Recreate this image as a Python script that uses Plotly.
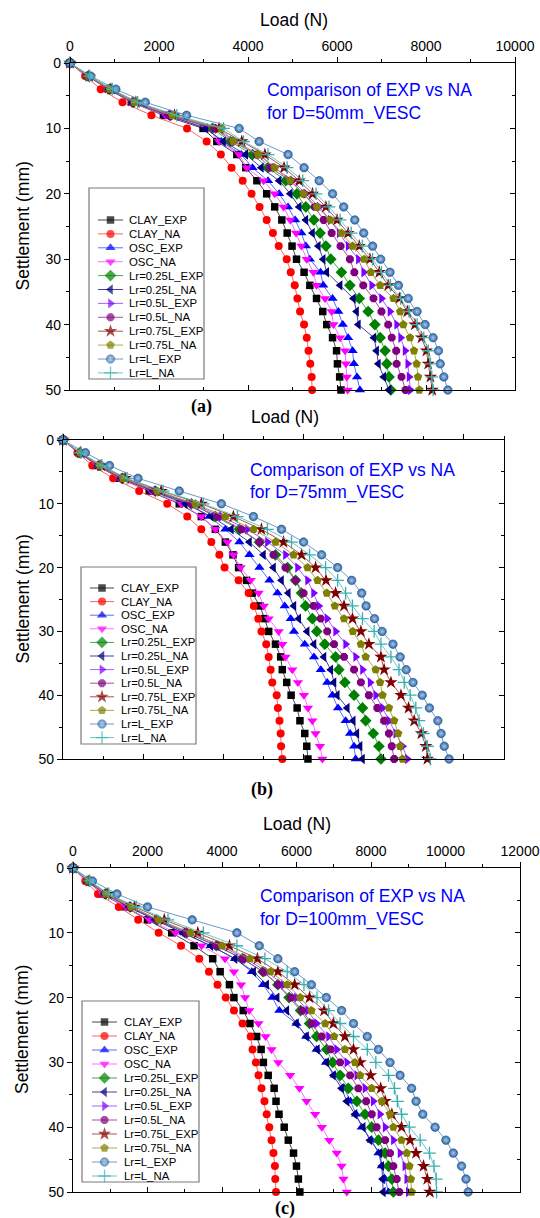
import plotly.graph_objects as go

FONT = "Liberation Sans, Arial, sans-serif"
W, H = 540, 1218

settlement = [0, 2, 4, 6, 8, 10, 12, 14, 16, 18, 20, 22, 24, 26, 28, 30, 32, 34, 36, 38, 40, 42, 44, 46, 48, 50]

series_names = ["CLAY_EXP", "CLAY_NA", "OSC_EXP", "OSC_NA", "Lr=0.25L_EXP", "Lr=0.25L_NA",
                "Lr=0.5L_EXP", "Lr=0.5L_NA", "Lr=0.75L_EXP", "Lr=0.75L_NA", "Lr=L_EXP", "Lr=L_NA"]

# ---------------- Panel (a): D = 50 mm ----------------
a_clay_exp = [0, 400, 860, 1380, 2100, 2990, 3300, 3750, 3950, 4200, 4420, 4600, 4760, 4880, 4990, 5090, 5260, 5390, 5540, 5680, 5770, 5900, 5990, 6010, 6060, 6090]
a_clay_na = [0, 340, 690, 1180, 1830, 2630, 3070, 3390, 3630, 3880, 4080, 4260, 4420, 4560, 4690, 4870, 4960, 5050, 5110, 5170, 5260, 5320, 5360, 5400, 5430, 5440]
a_osc_exp = [0, 410, 880, 1400, 2150, 3080, 3400, 3850, 4100, 4450, 4700, 4900, 5060, 5200, 5300, 5390, 5630, 5690, 5900, 6030, 6130, 6250, 6350, 6380, 6450, 6515]
a_osc_na = [0, 400, 870, 1390, 2150, 3100, 3350, 3800, 3970, 4350, 4600, 4800, 4950, 5080, 5200, 5320, 5470, 5540, 5730, 5880, 5920, 6070, 6180, 6200, 6220, 6240]
a_l025_exp = [0, 410, 890, 1420, 2250, 3200, 3600, 4100, 4450, 4850, 5100, 5300, 5480, 5620, 5750, 5860, 6100, 6290, 6500, 6700, 6850, 6970, 7080, 7120, 7170, 7210]
a_l025_na = [0, 400, 880, 1400, 2200, 3050, 3450, 3950, 4300, 4700, 4950, 5150, 5300, 5450, 5580, 5690, 5770, 6070, 6370, 6440, 6480, 6830, 6890, 6930, 7050, 7170]
a_l05_exp = [0, 420, 900, 1430, 2250, 3300, 3700, 4250, 4600, 5000, 5300, 5600, 5850, 6050, 6250, 6480, 6600, 6780, 7000, 7190, 7340, 7430, 7530, 7590, 7620, 7650]
a_l05_na = [0, 420, 900, 1430, 2230, 3250, 3650, 4200, 4500, 4950, 5250, 5500, 5700, 5880, 6080, 6290, 6390, 6590, 6820, 7000, 7150, 7230, 7330, 7340, 7450, 7540]
a_l075_exp = [0, 430, 920, 1480, 2350, 3350, 3860, 4380, 4810, 5150, 5450, 5750, 6000, 6250, 6500, 6740, 6950, 7150, 7400, 7580, 7750, 7900, 8010, 8050, 8100, 8140]
a_l075_na = [0, 420, 900, 1450, 2300, 3400, 3670, 4230, 4600, 4950, 5250, 5550, 5850, 6100, 6350, 6610, 6760, 6970, 7270, 7420, 7490, 7640, 7730, 7790, 7820, 7850]
a_l1_exp = [0, 465, 1030, 1690, 2620, 3800, 4250, 4900, 5260, 5600, 5900, 6150, 6400, 6600, 6800, 6980, 7190, 7380, 7600, 7800, 7980, 8160, 8280, 8320, 8400, 8490]
a_l1_na = [0, 440, 950, 1520, 2400, 3450, 3900, 4450, 4880, 5230, 5530, 5820, 6070, 6320, 6570, 6800, 7000, 7200, 7430, 7620, 7800, 7950, 8050, 8100, 8130, 8160]

# ---------------- Panel (b): D = 75 mm ----------------
b_clay_exp = [0, 400, 850, 1400, 2150, 2900, 3450, 3800, 4050, 4240, 4380, 4580, 4720, 4910, 5030, 5130, 5300, 5430, 5470, 5580, 5690, 5840, 5910, 6030, 6080, 6110]
b_clay_na = [0, 360, 730, 1250, 1900, 2600, 3100, 3450, 3700, 3900, 4030, 4380, 4630, 4760, 4870, 4950, 5070, 5130, 5180, 5220, 5330, 5360, 5400, 5430, 5440, 5470]
b_osc_exp = [0, 410, 880, 1450, 2250, 3150, 3650, 4050, 4400, 4650, 4900, 5150, 5350, 5530, 5680, 5760, 6030, 6260, 6430, 6590, 6720, 6860, 7050, 7160, 7260, 7300]
b_osc_na = [0, 400, 860, 1420, 2200, 2950, 3450, 3800, 4100, 4250, 4430, 4680, 4880, 5010, 5130, 5380, 5470, 5550, 5720, 5860, 6010, 6110, 6220, 6300, 6410, 6470]
b_l025_exp = [0, 420, 900, 1480, 2300, 3200, 3800, 4400, 4900, 5300, 5600, 5800, 5950, 6050, 6220, 6330, 6530, 6800, 6880, 7030, 7260, 7470, 7550, 7740, 7880, 7930]
b_l025_na = [0, 410, 880, 1450, 2250, 3050, 3700, 4200, 4650, 5000, 5250, 5450, 5620, 5760, 5880, 6090, 6260, 6510, 6680, 6760, 6840, 7090, 7240, 7330, 7410, 7470]
b_l05_exp = [0, 430, 920, 1500, 2350, 3250, 3950, 4600, 5100, 5550, 5850, 6100, 6250, 6380, 6590, 6800, 7050, 7300, 7470, 7660, 7800, 7970, 8130, 8300, 8470, 8590]
b_l05_na = [0, 420, 900, 1480, 2300, 3200, 3850, 4450, 4900, 5250, 5550, 5800, 6000, 6250, 6430, 6590, 6760, 7010, 7260, 7430, 7630, 7840, 8010, 8130, 8200, 8260]
b_l075_exp = [0, 440, 950, 1550, 2450, 3450, 4250, 4950, 5500, 5950, 6300, 6560, 6800, 7010, 7220, 7430, 7630, 7930, 8010, 8180, 8430, 8620, 8760, 8940, 9050, 9090]
b_l075_na = [0, 430, 920, 1500, 2350, 3300, 4050, 4750, 5300, 5750, 6100, 6350, 6580, 6780, 7010, 7230, 7430, 7550, 7800, 7910, 7970, 8130, 8260, 8360, 8410, 8470]
b_l1_exp = [0, 560, 1160, 1870, 2900, 3950, 4750, 5450, 6000, 6450, 6850, 7200, 7450, 7560, 7770, 7960, 8230, 8410, 8560, 8730, 8960, 9140, 9350, 9430, 9510, 9630]
b_l1_na = [0, 450, 970, 1600, 2500, 3500, 4350, 5100, 5700, 6150, 6550, 6850, 7050, 7220, 7470, 7760, 7930, 8180, 8380, 8510, 8660, 8800, 8880, 8990, 9090, 9160]

# ---------------- Panel (c): D = 100 mm ----------------
c_clay_exp = [0, 380, 780, 1400, 2000, 2650, 3250, 3750, 3950, 4200, 4320, 4570, 4750, 4930, 5050, 5110, 5240, 5400, 5450, 5530, 5670, 5780, 5920, 6000, 6050, 6090]
c_clay_na = [0, 330, 670, 1230, 1750, 2300, 2900, 3390, 3650, 3880, 4100, 4320, 4550, 4770, 4820, 4910, 4980, 5060, 5140, 5200, 5270, 5330, 5380, 5420, 5430, 5450]
c_osc_exp = [0, 400, 850, 1500, 2200, 2950, 3700, 4350, 4800, 5100, 5350, 5540, 6000, 6260, 6540, 6790, 7030, 7280, 7450, 7600, 7750, 8020, 8200, 8290, 8380, 8470]
c_osc_na = [0, 380, 800, 1420, 2050, 2750, 3450, 4080, 4320, 4510, 4620, 4730, 4980, 5170, 5330, 5510, 5830, 6080, 6270, 6500, 6680, 6880, 7080, 7210, 7260, 7350]
c_l025_exp = [0, 410, 870, 1530, 2250, 3050, 3850, 4550, 5100, 5500, 5800, 6110, 6350, 6540, 6810, 6970, 7170, 7390, 7620, 7840, 8020, 8200, 8380, 8470, 8560, 8600]
c_l025_na = [0, 400, 850, 1500, 2200, 2950, 3700, 4350, 4850, 5200, 5480, 5740, 6000, 6270, 6560, 6810, 6990, 7210, 7350, 7570, 7790, 7970, 8240, 8290, 8310, 8330]
c_l05_exp = [0, 420, 890, 1560, 2300, 3100, 3950, 4650, 5200, 5650, 6000, 6300, 6540, 6860, 7080, 7350, 7620, 7840, 8060, 8240, 8380, 8600, 8780, 8910, 8960, 9000]
c_l05_na = [0, 410, 870, 1530, 2250, 3050, 3850, 4550, 5100, 5500, 5850, 6150, 6410, 6680, 6920, 7170, 7440, 7660, 7870, 8020, 8150, 8380, 8510, 8600, 8690, 8760]
c_l075_exp = [0, 440, 930, 1650, 2450, 3350, 4200, 4950, 5500, 5950, 6350, 6740, 6990, 7300, 7530, 7710, 7990, 8260, 8380, 8560, 8820, 9050, 9210, 9410, 9510, 9580]
c_l075_na = [0, 420, 890, 1560, 2300, 3150, 4000, 4750, 5300, 5750, 6100, 6400, 6770, 7010, 7300, 7570, 7710, 8020, 8290, 8510, 8600, 8820, 8960, 9030, 9070, 9090]
c_l1_exp = [0, 520, 1180, 2000, 3200, 4400, 5000, 5500, 5950, 6400, 6800, 7210, 7530, 7900, 8200, 8510, 8780, 9090, 9210, 9390, 9720, 10010, 10210, 10430, 10550, 10610]
c_l1_na = [0, 450, 960, 1700, 2550, 3500, 4400, 5150, 5750, 6200, 6550, 6860, 7170, 7530, 7900, 8130, 8470, 8630, 8710, 8820, 9030, 9320, 9570, 9690, 9750, 9760]

panel_a = [a_clay_exp, a_clay_na, a_osc_exp, a_osc_na, a_l025_exp, a_l025_na,
           a_l05_exp, a_l05_na, a_l075_exp, a_l075_na, a_l1_exp, a_l1_na]
panel_b = [b_clay_exp, b_clay_na, b_osc_exp, b_osc_na, b_l025_exp, b_l025_na,
           b_l05_exp, b_l05_na, b_l075_exp, b_l075_na, b_l1_exp, b_l1_na]
panel_c = [c_clay_exp, c_clay_na, c_osc_exp, c_osc_na, c_l025_exp, c_l025_na,
           c_l05_exp, c_l05_na, c_l075_exp, c_l075_na, c_l1_exp, c_l1_na]

colors = ["#000000", "#FF0000", "#0000FF", "#FF00FF", "#008000", "#000080",
          "#8000FF", "#800080", "#800000", "#808000", "#2F68A6", "#3AAFAF"]
line_colors = ["#333333", "#FF5050", "#4060FF", "#FF60FF", "#30A030", "#303090",
               "#9A50FF", "#9A409A", "#A04040", "#A0A040", "#5A8FC8", "#60C0C0"]
symbols = ["square", "circle", "triangle-up", "triangle-down", "diamond", "triangle-left",
           "triangle-right", "octagon", "star", "pentagon", "circle", "cross-thin"]
msizes = [7.5, 8, 9, 9, 9, 9, 9, 8.5, 10, 9, 8.5, 9]

panels = [
    dict(data=panel_a, x0=70, x1=515, y0=63, y1=390, xmax=10000, labels=True,
         load_xy=(294, 20), comp_x=265, comp_y=(90, 113), dtext="for D=50mm_VESC",
         tag="(a)", tag_xy=(201, 406),
         leg=dict(bx0=89, by0=188, bx1=204, by1=379, ly0=220, step=13.9, lx0=98, lx1=123, tx=127)),
    dict(data=panel_b, x0=63, x1=504, y0=440, y1=759, xmax=11000, labels=False,
         load_xy=(285, 417), comp_x=248, comp_y=(470, 492), dtext="for D=75mm_VESC",
         tag="(b)", tag_xy=(262, 789),
         leg=dict(bx0=81, by0=567, bx1=196, by1=744, ly0=588, step=13.6, lx0=90, lx1=114, tx=119)),
    dict(data=panel_c, x0=73, x1=520, y0=868, y1=1192, xmax=12000, labels=True,
         load_xy=(297, 824), comp_x=258, comp_y=(896, 919), dtext="for D=100mm_VESC",
         tag="(c)", tag_xy=(285, 1208),
         leg=dict(bx0=82, by0=1001, bx1=199, by1=1182, ly0=1022, step=14.0, lx0=92, lx1=117, tx=122)),
]

fig = go.Figure()
layout = dict(width=W, height=H, margin=dict(l=0, r=0, t=0, b=0, autoexpand=False), autosize=False,
              paper_bgcolor="white", plot_bgcolor="rgba(0,0,0,0)", showlegend=False,
              font=dict(family=FONT, color="black"))
annotations = []
shapes = []


def marker_for(i, size):
    m = dict(symbol=symbols[i], size=size, color=colors[i], line=dict(width=0))
    if symbols[i] == "cross-thin":
        m["line"] = dict(width=1.3, color=colors[i])
    if i == 10:
        m["gradient"] = dict(type="radial", color="#A9C9EA")
        m["line"] = dict(width=0.6, color="#1F4F86")
    return m


def axis_common(ticks_dir, major, minor_d):
    return dict(tick0=0, dtick=major, tickformat="d", ticks=ticks_dir, ticklen=5, tickwidth=1.2,
                tickcolor="black", showline=True, linewidth=1.4, linecolor="black", mirror=False,
                showgrid=False, zeroline=False, fixedrange=True,
                tickfont=dict(size=14, family=FONT, color="black"),
                minor=dict(dtick=minor_d, ticks=ticks_dir, ticklen=3, tickwidth=1,
                           tickcolor="black", showgrid=False))


for p, P in enumerate(panels):
    xa = "x" if p == 0 else "x%d" % (p + 1)
    ya = "y" if p == 0 else "y%d" % (p + 1)
    xb = "x%d" % (5 + 2 * p)   # bottom mirror axis (ticks inside)
    yr = "y%d" % (5 + 2 * p)   # right mirror axis (ticks inside)
    for i, vals in enumerate(P["data"]):
        fig.add_trace(go.Scatter(
            x=vals, y=settlement, xaxis=xa, yaxis=ya, mode="lines+markers",
            name=series_names[i], line=dict(color=line_colors[i], width=0.9),
            marker=marker_for(i, msizes[i]), cliponaxis=False, showlegend=False))
    # empty helper traces so the mirror axes get drawn
    fig.add_trace(go.Scatter(x=[], y=[], xaxis=xb, yaxis=ya, showlegend=False, hoverinfo="skip"))
    fig.add_trace(go.Scatter(x=[], y=[], xaxis=xa, yaxis=yr, showlegend=False, hoverinfo="skip"))

    xdom = [P["x0"] / W, P["x1"] / W]
    ydom = [1 - P["y1"] / H, 1 - P["y0"] / H]
    xkey = "xaxis" if p == 0 else "xaxis%d" % (p + 1)
    ykey = "yaxis" if p == 0 else "yaxis%d" % (p + 1)
    layout[xkey] = dict(axis_common("outside", 2000, 1000), domain=xdom, range=[0, P["xmax"]],
                        anchor=ya, side="top", showticklabels=P["labels"])
    layout[ykey] = dict(axis_common("outside", 10, 5), domain=ydom, range=[50, 0], anchor=xa, side="left")
    layout["xaxis%d" % (5 + 2 * p)] = dict(axis_common("inside", 2000, 1000), range=[0, P["xmax"]],
                                           overlaying=xa, anchor=ya, side="bottom", showticklabels=False)
    layout["yaxis%d" % (5 + 2 * p)] = dict(axis_common("inside", 10, 5), range=[50, 0],
                                           overlaying=ya, anchor=xa, side="right", showticklabels=False)

    # texts (page-pixel coordinates on the overlay axis)
    lx, ly = P["load_xy"]
    annotations.append(dict(x=lx, y=ly, xref="x4", yref="y4", text="Load (N)", showarrow=False,
                            xanchor="center", yanchor="middle", font=dict(size=17.5, family=FONT, color="black")))
    annotations.append(dict(x=22, y=(P["y0"] + P["y1"]) / 2, xref="x4", yref="y4", text="Settlement (mm)",
                            textangle=-90, showarrow=False, xanchor="center", yanchor="middle",
                            font=dict(size=17.5, family=FONT, color="black")))
    annotations.append(dict(x=P["comp_x"], y=P["comp_y"][0], xref="x4", yref="y4",
                            text="Comparison of EXP vs NA", showarrow=False, xanchor="left", yanchor="middle",
                            font=dict(size=17.5, family=FONT, color="#0000FF")))
    annotations.append(dict(x=P["comp_x"], y=P["comp_y"][1], xref="x4", yref="y4",
                            text=P["dtext"], showarrow=False, xanchor="left", yanchor="middle",
                            font=dict(size=17.5, family=FONT, color="#0000FF")))
    tx, ty = P["tag_xy"]
    annotations.append(dict(x=tx, y=ty, xref="x4", yref="y4", text="<b>%s</b>" % P["tag"], showarrow=False,
                            xanchor="center", yanchor="middle",
                            font=dict(size=18, family="Liberation Serif, DejaVu Serif, serif", color="black")))

    # legend box and entries
    L = P["leg"]
    shapes.append(dict(type="rect", xref="x4", yref="y4", x0=L["bx0"], y0=L["by0"], x1=L["bx1"], y1=L["by1"],
                       line=dict(color="#7A7A7A", width=1.2), fillcolor="rgba(255,255,255,0)", layer="below"))
    for i, nm in enumerate(series_names):
        yy = L["ly0"] + i * L["step"]
        xm = (L["lx0"] + L["lx1"]) / 2
        fig.add_trace(go.Scatter(
            x=[L["lx0"], xm, L["lx1"]], y=[yy, yy, yy], xaxis="x4", yaxis="y4", mode="lines+markers",
            line=dict(color=line_colors[i], width=0.9),
            marker=dict(marker_for(i, msizes[i]), size=[0, msizes[i], 0]),
            cliponaxis=False, showlegend=False, hoverinfo="skip"))
        annotations.append(dict(x=L["tx"], y=yy, xref="x4", yref="y4", text=nm, showarrow=False,
                                xanchor="left", yanchor="middle",
                                font=dict(size=11.4, family=FONT, color="black")))

layout["xaxis4"] = dict(domain=[0, 1], range=[0, W], anchor="y4", visible=False, fixedrange=True)
layout["yaxis4"] = dict(domain=[0, 1], range=[H, 0], anchor="x4", visible=False, fixedrange=True)
layout["annotations"] = annotations
layout["shapes"] = shapes
fig.update_layout(**layout)

fig.write_html("out.html", config={"displayModeBar": False},
               post_script="document.body.style.margin='0px';document.body.style.overflow='hidden';")
